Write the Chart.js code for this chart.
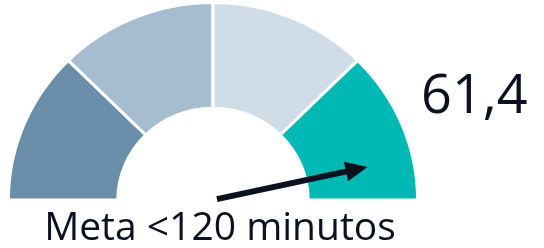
<!DOCTYPE html>
<html><head><meta charset="utf-8">
<script src="https://cdn.jsdelivr.net/npm/chart.js@4/dist/chart.umd.min.js"></script>
<style>html,body{margin:0;padding:0;background:#fff;overflow:hidden}#wrap{position:relative;width:544px;height:248px}</style>
</head><body><div id="wrap"><canvas id="c" width="544" height="248"></canvas></div>
<script>
// Data
const segmentLabels = ['Faixa 1', 'Faixa 2', 'Faixa 3', 'Faixa 4'];
const segmentValues = [1, 1, 1, 1];
const valueText = '61,4';
const needleFraction = 0.933;   // position of the needle along the half-circle (0 = left, 1 = right)
const goalText = 'Meta <120 minutos';

// Styles
const segmentColors = ['#6a8ea9', '#a6bccf', '#d0dde7', '#00b9b4'];
const inkColor = '#0b1120';
const stretchX = 1.036;   // the reference gauge is slightly wider than tall

const gaugePlugin = {
  id: 'gauge',
  beforeDatasetsDraw(chart) {
    const arc = chart.getDatasetMeta(0).data[0];
    const ctx = chart.ctx;
    ctx.save();
    if (arc) {
      ctx.translate(arc.x, 0);
      ctx.scale(stretchX, 1);
      ctx.translate(-arc.x, 0);
    }
  },
  afterDatasetsDraw(chart) {
    const ctx = chart.ctx;
    ctx.restore();
    const arc = chart.getDatasetMeta(0).data[0];
    if (!arc) return;
    const {x, y, outerRadius} = arc.getProps(['x', 'y', 'outerRadius'], true);
    const ang = Math.PI + needleFraction * Math.PI;
    const len = outerRadius * 0.8;
    const headLen = 22, headHalf = 10;
    const ux = Math.cos(ang), uy = Math.sin(ang);
    const tipX = x + ux * len, tipY = y + uy * len;
    const baseX = tipX - ux * headLen, baseY = tipY - uy * headLen;
    ctx.save();
    ctx.strokeStyle = inkColor;
    ctx.fillStyle = inkColor;
    ctx.lineWidth = 6;
    ctx.lineCap = 'butt';
    ctx.beginPath();
    ctx.moveTo(x + ux * 4, y + uy * 4);
    ctx.lineTo(baseX + ux * 2, baseY + uy * 2);
    ctx.stroke();
    ctx.beginPath();
    ctx.moveTo(tipX, tipY);
    ctx.lineTo(baseX - uy * headHalf, baseY + ux * headHalf);
    ctx.lineTo(baseX + uy * headHalf, baseY - ux * headHalf);
    ctx.closePath();
    ctx.fill();
    ctx.restore();
  },
  afterDraw(chart) {
    const ctx = chart.ctx;
    ctx.save();
    ctx.fillStyle = inkColor;
    ctx.textBaseline = 'alphabetic';
    ctx.font = '54px "Open Sans"';
    ctx.textAlign = 'left';
    ctx.fillText(valueText, 421, 113);
    ctx.font = '39px "Open Sans"';
    ctx.textAlign = 'center';
    ctx.fillText(goalText, 220, 240);
    ctx.restore();
  }
};

new Chart(document.getElementById('c'), {
  type: 'doughnut',
  data: {
    labels: segmentLabels,
    datasets: [{
      data: segmentValues,
      backgroundColor: segmentColors,
      borderColor: '#ffffff',
      borderWidth: 3,
      hoverOffset: 0,
      clip: false
    }]
  },
  options: {
    responsive: false,
    animation: false,
    events: [],
    rotation: -90,
    circumference: 180,
    cutout: '46.5%',
    radius: 197.5,
    layout: { padding: { left: 0, right: 118, top: 0, bottom: 45.5 } },
    plugins: { legend: { display: false }, tooltip: { enabled: false } }
  },
  plugins: [gaugePlugin]
});
</script>
</body></html>
